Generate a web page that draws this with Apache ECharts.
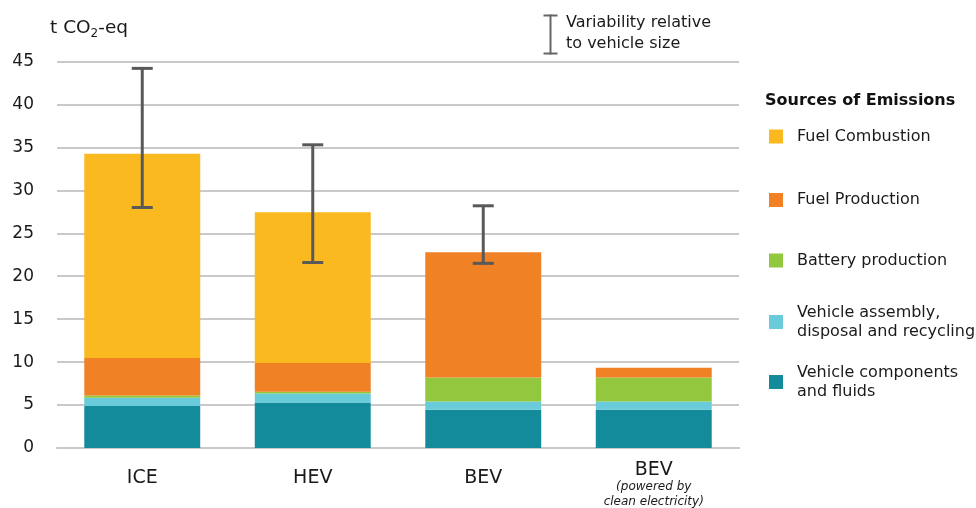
<!DOCTYPE html>
<html>
<head>
<meta charset="UTF-8">
<style>
	html, body { margin: 0; padding: 0; background: #fff; }
	#main { width: 976px; height: 508px; }
</style>
</head>
<body>
	<div id="main"></div>
</body>
<script src="https://cdn.jsdelivr.net/npm/echarts@6/dist/echarts.min.js"></script>
<script type="text/javascript">
// categories
var categories = ['ICE', 'HEV', 'BEV', 'BEV clean'];
var yTicks = [0, 5, 10, 15, 20, 25, 30, 35, 40, 45];

// emission sources, bottom of the stack first
var components = [4.9, 5.3, 4.45, 4.45];
var assembly = [0.95, 1.05, 0.95, 0.95];
var battery = [0.27, 0.2, 2.8, 2.8];
var fuelProduction = [4.35, 3.35, 14.6, 1.15];
var fuelCombustion = [23.8, 17.55, 0, 0];

// variability relative to vehicle size
var errLow = [28.0, 21.6, 21.5];
var errHigh = [44.2, 35.3, 28.2];

var names = [
	'Vehicle components\nand fluids',
	'Vehicle assembly,\ndisposal and recycling',
	'Battery production',
	'Fuel Production',
	'Fuel Combustion'
];
var colors = ['#138b9b', '#6acbda', '#92c73e', '#f08125', '#fbb920'];
var values = [components, assembly, battery, fuelProduction, fuelCombustion];

var font = 'DejaVu Sans';

var series = [];
for (var i = 0; i < names.length; i++) {
	series.push({
		name: names[i],
		type: 'bar',
		stack: 'total',
		barWidth: '68%',
		itemStyle: { color: colors[i] },
		data: values[i]
	});
}

var errData = [];
for (var j = 0; j < errLow.length; j++) {
	errData.push([j, errLow[j], errHigh[j]]);
}
series.push({
	name: 'variability',
	type: 'custom',
	z: 10,
	encode: { x: 0, y: [1, 2] },
	data: errData,
	renderItem: function(params, api) {
		var lo = api.coord([api.value(0), api.value(1)]);
		var hi = api.coord([api.value(0), api.value(2)]);
		var w = 10.5;
		var st = { stroke: '#595959', lineWidth: 3 };
		return {
			type: 'group',
			children: [
				{ type: 'line', shape: { x1: lo[0], y1: lo[1], x2: hi[0], y2: hi[1] }, style: st },
				{ type: 'line', shape: { x1: lo[0] - w, y1: lo[1], x2: lo[0] + w, y2: lo[1] }, style: st },
				{ type: 'line', shape: { x1: hi[0] - w, y1: hi[1], x2: hi[0] + w, y2: hi[1] }, style: st }
			]
		};
	}
});

// one legend per item, they are not evenly spaced
var legendTops = [363, 303, 251, 190.5, 127];
var legends = [];
for (var k = 0; k < names.length; k++) {
	legends.push({
		data: [names[k]],
		left: 769,
		top: legendTops[k],
		padding: 0,
		icon: 'rect',
		itemWidth: 14,
		itemHeight: 14,
		itemGap: 0,
		selectedMode: false,
		textStyle: { fontFamily: font, fontSize: 16, color: '#1a1a1a', lineHeight: 19, padding: [0, 0, 0, 9] }
	});
}

var myChart = echarts.init(document.getElementById('main'));

var option = {
	animation: false,
	grid: { left: 57, right: 237, top: 61.5, bottom: 60 },
	legend: legends,
	xAxis: {
		type: 'category',
		data: categories,
		axisTick: { show: false },
		axisLine: { show: true, lineStyle: { color: '#c9c9c9', width: 2 } },
		axisLabel: {
			margin: 13,
			interval: 0,
			formatter: function(v) {
				if (v === 'BEV clean') {
					return '{c|BEV}\n{s|(powered by}\n{s|clean electricity)}';
				}
				return '{a|' + v + '}';
			},
			rich: {
				a: { fontFamily: font, fontSize: 19, color: '#1a1a1a', lineHeight: 34 },
				c: { fontFamily: font, fontSize: 19, color: '#1a1a1a', lineHeight: 18 },
				s: { fontFamily: font, fontSize: 12, fontStyle: 'italic', color: '#1a1a1a', lineHeight: 15 }
			}
		}
	},
	yAxis: {
		type: 'value',
		min: 0,
		max: 45,
		interval: 5,
		axisLine: { show: false },
		axisTick: { show: false },
		axisLabel: { margin: 23, fontFamily: font, fontSize: 17, color: '#1a1a1a' },
		splitLine: { lineStyle: { color: '#c9c9c9', width: 2 } }
	},
	graphic: [
		{
			type: 'text',
			left: 50,
			top: 17,
			style: {
				text: '{a|t CO}{b|2}{a|-eq}',
				rich: {
					a: { fontFamily: font, fontSize: 18.5, fill: '#1a1a1a', lineHeight: 24 },
					b: { fontFamily: font, fontSize: 12, fill: '#1a1a1a', lineHeight: 24, padding: [11, 0, 0, 0] }
				}
			}
		},
		{
			type: 'text',
			left: 765,
			top: 93,
			style: { text: 'Sources of Emissions', fontFamily: font, fontSize: 16, fontWeight: 'bold', fill: '#111' }
		},
		{
			type: 'group',
			left: 541,
			top: 12,
			children: [
				{ type: 'line', shape: { x1: 7, y1: 0, x2: 7, y2: 40 }, style: { stroke: '#666', lineWidth: 2 } },
				{ type: 'line', shape: { x1: 0, y1: 1, x2: 14, y2: 1 }, style: { stroke: '#666', lineWidth: 2 } },
				{ type: 'line', shape: { x1: 0, y1: 39, x2: 14, y2: 39 }, style: { stroke: '#666', lineWidth: 2 } }
			]
		},
		{
			type: 'text',
			left: 566,
			top: 12,
			style: { text: 'Variability relative\nto vehicle size', fontFamily: font, fontSize: 16, lineHeight: 21, fill: '#1a1a1a' }
		}
	],
	series: series
};

myChart.setOption(option);
</script>
</html>
